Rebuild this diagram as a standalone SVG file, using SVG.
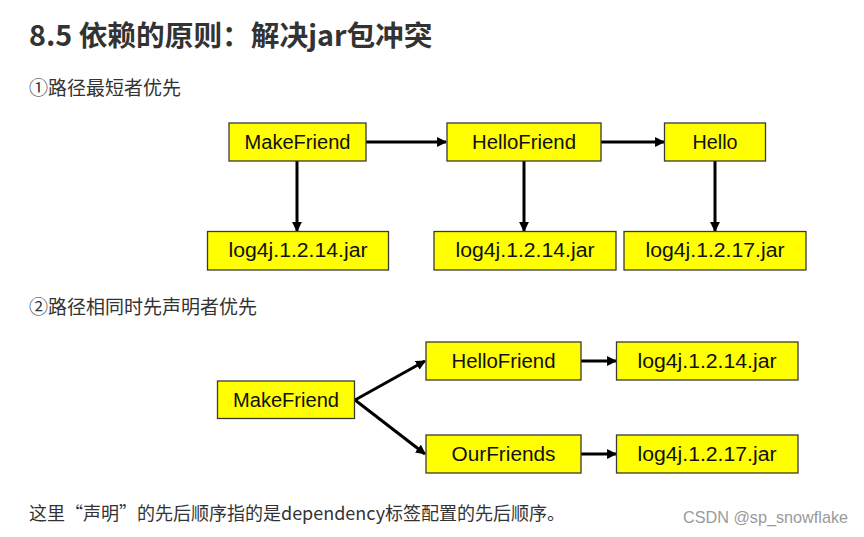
<svg xmlns="http://www.w3.org/2000/svg" width="864" height="537" viewBox="0 0 864 537">
<defs>
<style>
.box{fill:#ffff00;stroke:#3a3a3a;stroke-width:1.3}
.lbl{font-family:"Liberation Sans","Noto Sans",sans-serif;font-size:19.5px;fill:#111;text-anchor:middle}
.cn{font-family:"Noto Sans CJK SC","Noto Sans",sans-serif;fill:#333}
.edge{stroke:#000;stroke-width:3;fill:none;marker-end:url(#ah)}
</style>
<marker id="ah" viewBox="0 0 10 10" refX="9" refY="5" markerWidth="3.3" markerHeight="3.3" orient="auto" markerUnits="strokeWidth">
<path d="M0,0 L10,5 L0,10 z" fill="#000"/>
</marker>
</defs>
<rect width="864" height="537" fill="#fff"/>
<text class="cn" x="29" y="46" font-size="28.7" font-weight="bold">8.5 依赖的原则：解决jar包冲突</text>
<text class="cn" x="29" y="95" font-size="19">①路径最短者优先</text>
<text class="cn" x="29" y="314" font-size="19">②路径相同时先声明者优先</text>
<text class="cn" x="29" y="520" font-size="18" textLength="536" lengthAdjust="spacingAndGlyphs">这里“声明”的先后顺序指的是dependency标签配置的先后顺序。</text>
<text x="683" y="523" font-family="'Liberation Sans',sans-serif" font-size="17" fill="#9a9a9a" textLength="165" lengthAdjust="spacingAndGlyphs">CSDN @sp_snowflake</text>

<g id="connectors">
<line class="edge" x1="366" y1="142" x2="446" y2="142"/>
<line class="edge" x1="601" y1="142" x2="664" y2="142"/>
<line class="edge" x1="297" y1="161" x2="297" y2="231"/>
<line class="edge" x1="524" y1="161" x2="524" y2="231"/>
<line class="edge" x1="715" y1="161" x2="715" y2="231"/>
<line class="edge" x1="355" y1="400" x2="425" y2="361"/>
<line class="edge" x1="355" y1="400" x2="425" y2="454"/>
<line class="edge" x1="581" y1="361" x2="616" y2="361"/>
<line class="edge" x1="581" y1="454" x2="616" y2="454"/>
</g>

<g id="makefriend1"><rect class="box" x="229" y="123" width="137" height="38"/><text class="lbl" x="297.5" y="149" textLength="106" lengthAdjust="spacingAndGlyphs">MakeFriend</text></g>
<g id="hellofriend1"><rect class="box" x="447" y="123" width="154" height="38"/><text class="lbl" x="524" y="149" textLength="104" lengthAdjust="spacingAndGlyphs">HelloFriend</text></g>
<g id="hello1"><rect class="box" x="664.5" y="123" width="101" height="38"/><text class="lbl" x="715" y="149" textLength="45" lengthAdjust="spacingAndGlyphs">Hello</text></g>
<g id="log4j-a"><rect class="box" x="207.5" y="231.5" width="181" height="38.5"/><text class="lbl" x="298" y="257" textLength="139" lengthAdjust="spacingAndGlyphs">log4j.1.2.14.jar</text></g>
<g id="log4j-b"><rect class="box" x="434" y="231.5" width="182" height="38.5"/><text class="lbl" x="525" y="257" textLength="139" lengthAdjust="spacingAndGlyphs">log4j.1.2.14.jar</text></g>
<g id="log4j-c"><rect class="box" x="624" y="231.5" width="182" height="38.5"/><text class="lbl" x="715" y="257" textLength="139" lengthAdjust="spacingAndGlyphs">log4j.1.2.17.jar</text></g>

<g id="makefriend2"><rect class="box" x="217.5" y="381" width="137" height="37.5"/><text class="lbl" x="286" y="407" textLength="106" lengthAdjust="spacingAndGlyphs">MakeFriend</text></g>
<g id="hellofriend2"><rect class="box" x="426" y="342" width="155" height="38"/><text class="lbl" x="503.5" y="368" textLength="104" lengthAdjust="spacingAndGlyphs">HelloFriend</text></g>
<g id="ourfriends"><rect class="box" x="426" y="435" width="155" height="38"/><text class="lbl" x="503.5" y="461" textLength="104" lengthAdjust="spacingAndGlyphs">OurFriends</text></g>
<g id="log4j-d"><rect class="box" x="616.5" y="342" width="181.5" height="38"/><text class="lbl" x="707" y="368" textLength="139" lengthAdjust="spacingAndGlyphs">log4j.1.2.14.jar</text></g>
<g id="log4j-e"><rect class="box" x="616.5" y="435" width="181.5" height="38"/><text class="lbl" x="707" y="461" textLength="139" lengthAdjust="spacingAndGlyphs">log4j.1.2.17.jar</text></g>
</svg>
